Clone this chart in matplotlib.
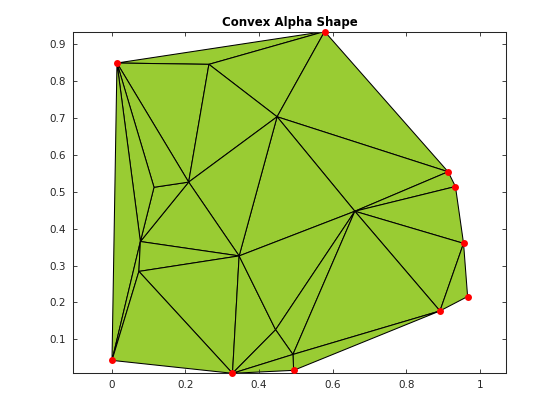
import numpy as np
import matplotlib
matplotlib.use("Agg")
import matplotlib.pyplot as plt
from matplotlib.collections import PolyCollection

# vertex coordinates (P1..P10 boundary, then interior A..J)
names = ["P1", "P2", "P3", "P4", "P5", "P6", "P7", "P8", "P9", "P10",
         "A", "B", "C", "D", "E", "F", "G", "H", "I", "J"]
px = [0.0145, 0.578, 0.913, 0.933, 0.955, 0.966, 0.891, 0.494, 0.328, 0.001,
      0.264, 0.449, 0.209, 0.115, 0.660, 0.078, 0.074, 0.346, 0.492, 0.445]
py = [0.8486, 0.934, 0.554, 0.514, 0.360, 0.216, 0.177, 0.016, 0.008, 0.043,
      0.845, 0.703, 0.526, 0.512, 0.447, 0.365, 0.284, 0.326, 0.059, 0.126]

triangles_named = [
    ("P1", "P2", "A"), ("A", "P2", "B"), ("P1", "A", "C"), ("A", "B", "C"),
    ("B", "P2", "P3"), ("B", "P3", "E"), ("E", "P3", "P4"), ("E", "P4", "P5"),
    ("E", "P5", "P7"), ("P5", "P6", "P7"), ("B", "E", "H"), ("B", "H", "C"),
    ("C", "H", "F"), ("C", "F", "D"), ("P1", "C", "D"), ("P1", "D", "F"),
    ("P1", "F", "P10"), ("F", "G", "P10"), ("F", "H", "G"), ("G", "H", "P9"),
    ("G", "P9", "P10"), ("H", "J", "P9"), ("H", "E", "J"), ("J", "E", "I"),
    ("J", "I", "P9"), ("I", "E", "P7"), ("I", "P7", "P8"), ("P9", "I", "P8"),
]
hull = ["P1", "P2", "P3", "P4", "P5", "P6", "P7", "P8", "P9", "P10"]

idx = {n: i for i, n in enumerate(names)}
px = np.array(px)
py = np.array(py)

fig = plt.figure(figsize=(5.6, 4.2), dpi=100)
ax = fig.add_axes([0.1309, 0.1112, 0.7732, 0.8138])

polys = [[(px[idx[a]], py[idx[a]]) for a in t] for t in triangles_named]
pc = PolyCollection(polys, facecolor=(0.6, 0.8, 0.2), edgecolor="black",
                    linewidth=0.75, antialiased=True)
ax.add_collection(pc)

hx = [px[idx[n]] for n in hull]
hy = [py[idx[n]] for n in hull]
ax.plot(hx, hy, linestyle="none", marker="o", markersize=5,
        color="red", markeredgewidth=0, zorder=3, clip_on=False)

ax.set_xlim(-0.104, 1.071)
ax.set_ylim(py.min(), py.max())

xt = [0, 0.2, 0.4, 0.6, 0.8, 1]
xtl = ["0", "0.2", "0.4", "0.6", "0.8", "1"]
yt = [0.1, 0.2, 0.3, 0.4, 0.5, 0.6, 0.7, 0.8, 0.9]
ytl = ["0.1", "0.2", "0.3", "0.4", "0.5", "0.6", "0.7", "0.8", "0.9"]
ax.set_xticks(xt)
ax.set_xticklabels(xtl)
ax.set_yticks(yt)
ax.set_yticklabels(ytl)

axc = (0.15, 0.15, 0.15)
ax.tick_params(direction="in", length=3, width=0.6, colors=axc,
               labelsize=7.5, top=True, right=True, pad=5)
for s in ax.spines.values():
    s.set_color(axc)
    s.set_linewidth(0.75)

ax.set_title("Convex Alpha Shape", fontsize=8.5, fontweight="bold", pad=4)

fig.savefig("out.png", dpi=100)
